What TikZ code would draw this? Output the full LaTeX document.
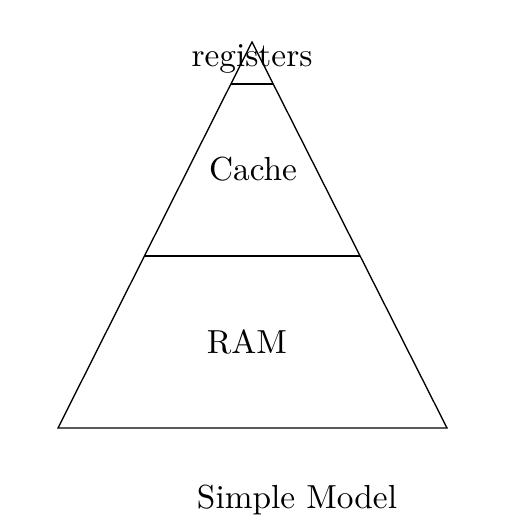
\documentclass[tikz,border=0pt]{standalone}
\usetikzlibrary{calc}

\begin{document}
\begin{tikzpicture}[x=0.3pt,y=0.3pt]
  \useasboundingbox (0,0) rectangle (520,528);

  % Corners of the pyramid
  \coordinate (top) at (252,486);
  \coordinate (bl) at (58,100);
  \coordinate (br) at (447,100);

  % Outline
  \draw (top) -- (bl) -- (br) -- cycle;

  % Level lines
  \coordinate (regl) at ($(top)!0.1088!(bl)$);
  \coordinate (regr) at ($(top)!0.1088!(br)$);
  \coordinate (cachel) at ($(top)!0.5544!(bl)$);
  \coordinate (cacher) at ($(top)!0.5544!(br)$);
  \draw (regl) -- (regr);
  \draw (cachel) -- (cacher);

  % Labels
  \node[anchor=base] (reg) at (252,461) {registers};
  \node[anchor=base] (cache) at (253,347) {Cache};
  \node[anchor=base] (ram) at (247,174) {RAM};
  \node[anchor=base] (title) at (297,19) {Simple Model};
\end{tikzpicture}
\end{document}
